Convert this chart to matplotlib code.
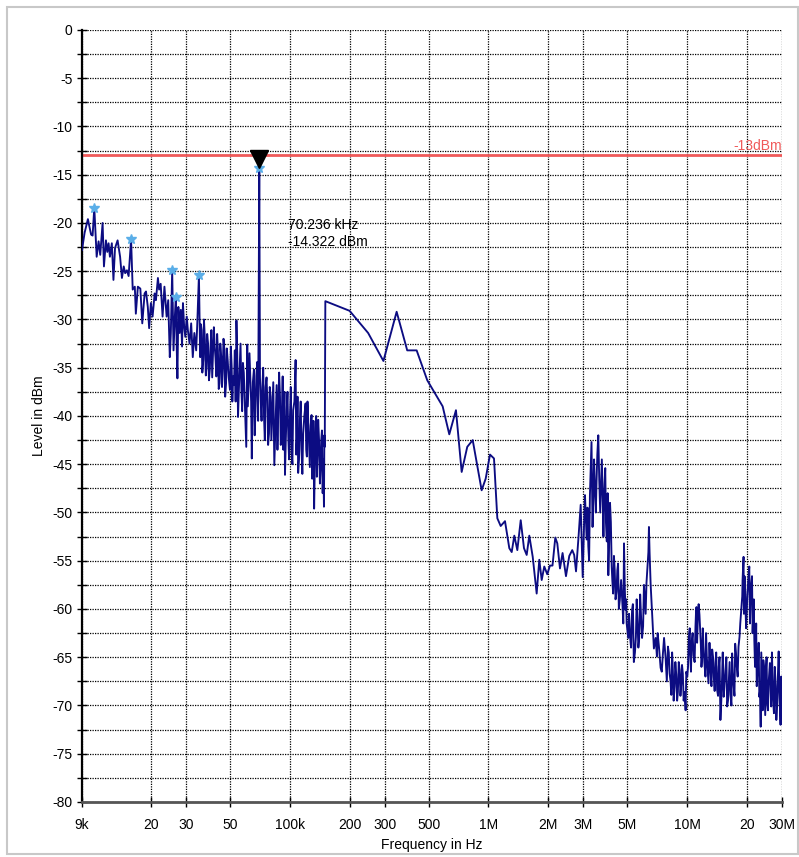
import matplotlib.pyplot as plt
from matplotlib.patches import Rectangle

# spectrum trace (kHz, dBm)
freq_khz = [
    9.0, 9.28, 9.64, 9.8, 10.0, 10.18, 10.38, 10.67, 10.91, 11.12,
    11.43, 11.61, 11.88, 12.07, 12.25, 12.44, 12.72, 12.96, 13.2, 13.6,
    14.0, 14.3, 14.6, 14.85, 15.15, 15.45, 15.9, 16.2, 16.6, 16.8,
    17.2, 17.7, 18.1, 18.6, 18.9, 19.3, 19.6, 20.0, 20.4, 20.9,
    21.2, 21.7, 22.0, 22.4, 22.9, 23.4, 24.0, 24.45, 24.9, 25.2,
    25.6, 26.0, 26.4, 26.7, 27.0, 27.2, 27.5, 27.9, 28.3, 28.7,
    29.0, 29.4, 29.8, 30.3, 30.7, 31.3, 31.9, 32.5, 33.1, 33.8,
    34.2, 34.9, 35.4, 36.0, 36.7, 37.4, 38.1, 38.8, 39.6, 40.3,
    41.1, 41.9, 42.7, 43.5, 44.3, 45.2, 46.0, 46.9, 47.8, 48.7,
    50.0, 51.0, 51.9, 52.9, 53.9, 54.9, 56.0, 57.1, 58.1, 59.3,
    60.4, 61.1, 62.0, 63.5, 64.4, 66.0, 67.3, 68.6, 70.236, 71.4,
    72.8, 74.2, 75.6, 77.1, 78.6, 80.1, 81.6, 83.6, 85.9, 87.5,
    89.3, 91.0, 92.1, 93.5, 94.6, 96.5, 98.3, 100.2, 102.2, 104.0,
    107.0, 108.6, 110.2, 112.4, 114.6, 116.8, 120.1, 121.9, 123.8, 126.2,
    128.7, 130.6, 132.6, 134.8, 136.9, 139.0, 141.8, 144.0, 146.4, 148.6,
    150.0, 151.0, 200, 248, 296, 345, 390, 435, 492, 588,
    635, 686, 733, 782, 833, 924, 968, 1018, 1066, 1108,
    1152, 1211, 1273, 1309, 1349, 1397, 1453, 1509, 1557, 1605,
    1670, 1748, 1802, 1853, 1909, 1976, 2039, 2100, 2169, 2220,
    2290, 2360, 2455, 2551, 2640, 2700, 2758, 2840, 2911, 2980,
    3060, 3120, 3180, 3240, 3300, 3370, 3430, 3500, 3570, 3610,
    3680, 3760, 3810, 3870, 3940, 4010, 4090, 4170, 4240, 4320,
    4410, 4490, 4580, 4730, 4810, 4890, 4960, 5050, 5150, 5280,
    5390, 5520, 5620, 5730, 5860, 6000, 6120, 6240, 6310, 6380,
    6420, 6470, 6550, 6650, 6720, 6800, 6940, 7040, 7210, 7350,
    7550, 7790, 8000, 8160, 8320, 8470, 8640, 8810, 8980, 9160,
    9340, 9510, 9710, 9820, 10010, 10200, 10360, 10520, 10760, 11010,
    11140, 11310, 11530, 11710, 11900, 12080, 12360, 12550, 12800, 13100,
    13360, 13610, 13880, 14150, 14420, 14700, 14990, 15270, 15580, 15890,
    16190, 16510, 16840, 17100, 17440, 17770, 18130, 18340, 18710, 18930,
    19220, 19440, 19670, 20070, 20540, 20880, 21200, 21520, 21770, 22130,
    22390, 22730, 23070, 23440, 23800, 24160, 24550, 24910, 25280, 25690,
    26080, 26480, 26910, 27330, 27880, 28400, 28870, 29310, 29760, 30000,
]
level_dbm = [
    -22.8, -21.0, -19.6, -20.3, -21.2, -21.3, -18.4, -23.5, -21.9, -23.3,
    -20.0, -24.5, -21.8, -23.0, -22.1, -23.5, -22.1, -25.9, -22.6, -21.8,
    -23.5, -25.7, -24.5, -25.2, -24.9, -25.5, -21.7, -26.9, -26.6, -29.4,
    -26.6, -26.8, -30.4, -27.3, -27.1, -28.7, -30.9, -28.3, -29.7, -27.3,
    -28.0, -25.7, -26.9, -26.3, -29.7, -26.6, -29.7, -28.0, -33.9, -31.4,
    -24.9, -33.2, -29.7, -27.7, -33.2, -36.1, -28.7, -31.4, -29.0, -32.8,
    -28.3, -30.7, -31.8, -29.7, -31.1, -32.5, -30.4, -33.9, -31.4, -33.2,
    -30.7, -25.4, -33.9, -31.1, -34.2, -32.1, -34.9, -32.5, -35.2, -31.1,
    -33.5, -32.8, -35.9, -33.2, -36.6, -33.9, -35.2, -33.2, -36.6, -34.2,
    -37.3, -34.9, -35.9, -33.2, -30.1, -40.1, -34.9, -37.3, -34.5, -38.3,
    -43.2, -32.6, -36.6, -37.0, -44.4, -35.2, -39.0, -34.4, -14.322, -38.3,
    -37.0, -40.1, -37.0, -38.3, -41.8, -38.0, -39.7, -45.1, -36.8, -39.4,
    -38.0, -41.1, -35.9, -40.4, -46.1, -39.4, -42.1, -40.1, -43.9, -39.4,
    -34.2, -42.5, -45.9, -40.4, -43.5, -41.8, -38.7, -44.2, -40.4, -45.3,
    -39.9, -43.5, -49.6, -41.8, -46.3, -40.4, -47.0, -42.5, -48.0, -49.4,
    -43.2, -28.1, -29.1, -31.4, -34.3, -29.2, -33.2, -33.2, -36.3, -39.0,
    -41.9, -39.4, -45.8, -43.2, -42.5, -47.7, -46.5, -44.0, -44.4, -50.6,
    -51.4, -50.9, -53.7, -54.1, -52.4, -53.9, -50.8, -53.7, -54.4, -52.4,
    -54.6, -58.4, -54.9, -57.0, -55.6, -56.4, -55.5, -55.5, -52.6, -53.2,
    -55.8, -54.2, -56.6, -54.5, -53.9, -54.4, -56.1, -52.5, -49.2, -56.7,
    -48.2, -52.8, -53.5, -48.2, -42.7, -48.4, -47.3, -46.6, -42.0, -46.6,
    -47.7, -48.7, -49.7, -45.4, -53.0, -56.5, -49.0, -55.6, -58.4, -56.0,
    -58.2, -55.3, -59.1, -59.8, -53.2, -60.1, -61.5, -63.0, -62.7, -60.1,
    -65.5, -62.9, -61.1, -63.2, -60.8, -61.8, -59.1, -57.3, -55.6, -54.1,
    -51.5, -54.2, -57.5, -60.1, -61.8, -64.1, -63.0, -64.9, -63.9, -66.1,
    -64.6, -65.1, -63.9, -66.7, -68.9, -66.3, -68.0, -66.8, -68.6, -66.3,
    -67.7, -66.7, -68.6, -70.5, -67.0, -63.0, -64.6, -63.6, -64.8, -61.8,
    -59.8, -61.1, -60.6, -63.6, -64.9, -63.9, -67.0, -64.9, -67.7, -66.3,
    -64.2, -67.0, -65.6, -68.4, -66.0, -71.5, -67.0, -69.1, -66.3, -70.1,
    -67.7, -68.9, -64.6, -67.7, -63.6, -66.0, -63.9, -62.9, -60.1, -58.7,
    -54.6, -56.6, -60.1, -58.7, -55.6, -58.4, -56.6, -60.1, -63.2, -63.9,
    -68.0, -65.6, -69.1, -72.2, -67.7, -65.3, -69.1, -66.3, -69.8, -67.7,
    -65.6, -70.1, -67.4, -70.8, -68.0, -69.8, -64.4, -70.5, -67.0, -71.9,
]

# more samples from the dense noise bands (kHz, dBm)
extra_khz = [
    35.7, 36.3, 37.0, 37.8, 38.4, 39.2, 39.9, 40.7, 41.5, 42.3,
    43.1, 43.9, 44.7, 45.6, 46.4, 47.3, 48.2, 49.3, 50.5, 51.4,
    52.4, 53.4, 54.4, 55.4, 56.5, 57.6, 58.7, 59.8, 60.8, 61.5,
    62.7, 63.9, 65.2, 66.6, 67.9, 69.3, 70.8, 72.1, 73.5, 74.9,
    76.4, 77.8, 79.3, 80.8, 82.6, 84.7, 86.7, 88.4, 90.1, 91.5,
    92.8, 94.0, 95.5, 97.4, 99.2, 101.2, 103.1, 105.5, 107.8, 109.4,
    111.3, 113.5, 115.7, 118.4, 121.0, 122.8, 125.0, 127.4, 129.6, 131.6,
    133.7, 135.8, 137.9, 140.4, 142.9, 145.2, 147.5, 149.3,
    3030, 3150, 3210, 3270, 3340, 3400, 3470, 3530, 3650, 3720,
    3790, 3840, 3900, 3980, 4050, 4130, 4200, 4280, 4360, 4450,
    4530, 4650, 4770, 4850, 4930,
    5100, 5220, 5330, 5460, 5570, 5680, 5800, 5930, 6060, 6180,
    7100, 7450, 7650, 7900, 8080, 8250, 8400, 8550, 8720, 8900,
    9070, 9250, 9420, 9600, 9900,
    10100, 10300, 10450, 10650, 10900, 11070, 11220, 11420, 11620, 11800,
    11980, 12200, 12450, 12700, 12950, 13250, 13500, 13750, 14000, 14300,
    14550, 14850, 15100, 15400, 15750, 16050, 16350, 16700, 16950, 17300,
    17600, 17950,
    18500, 19000, 19300, 19550, 19800, 20300, 20700, 21000, 21350, 21650,
    21950,
    22250, 22550, 22900, 23250, 23600, 24000, 24350, 24700, 25100, 25500,
    25900, 26300, 26700, 27100, 27600, 28100, 28600, 29100, 29500,
]
extra_dbm = [
    -30.5, -35.5, -30.0, -35.8, -31.5, -36.3, -33.0, -36.0, -30.8, -34.0,
    -31.5, -37.2, -32.5, -37.0, -32.0, -38.0, -33.0, -36.0, -32.8, -38.5,
    -36.8, -38.5, -33.5, -37.5, -32.5, -39.5, -35.5, -40.5, -36.5, -39.0,
    -33.5, -38.5, -36.5, -42.0, -35.8, -40.5, -36.0, -40.5, -35.0, -42.5,
    -36.0, -43.0, -37.0, -42.5, -36.5, -41.0, -43.5, -35.5, -43.0, -38.5,
    -43.5, -37.5, -42.5, -37.5, -44.5, -37.0, -45.0, -38.5, -44.0, -38.0,
    -44.5, -38.5, -46.0, -40.0, -43.5, -38.5, -43.0, -41.0, -46.5, -40.5,
    -45.0, -40.0, -44.0, -42.5, -45.5, -41.5, -44.5, -42.0,
    -51.0, -49.5, -55.0, -45.5, -51.5, -44.5, -50.0, -44.0, -50.0, -44.5,
    -52.5, -47.0, -51.0, -48.0, -53.0, -51.0, -57.0, -54.5, -59.0, -56.0,
    -60.0, -57.0, -61.5, -57.5, -59.0,
    -60.5, -64.0, -59.5, -64.5, -59.0, -64.0, -58.5, -63.0, -57.5, -60.5,
    -62.5, -66.5, -63.0, -67.5, -64.5, -67.5, -64.5, -69.5, -65.5, -69.5,
    -65.5, -69.0, -65.8, -69.5, -66.5,
    -66.0, -62.0, -66.5, -62.5, -65.5, -60.5, -63.5, -59.5, -62.0, -66.0,
    -62.0, -65.5, -62.5, -66.5, -63.5, -68.0, -65.0, -68.5, -64.5, -69.0,
    -65.0, -69.5, -64.5, -68.0, -65.0, -69.5, -65.5, -70.0, -66.5, -69.0,
    -64.5, -67.0,
    -61.5, -57.0, -60.5, -57.5, -62.0, -57.0, -61.5, -57.5, -62.5, -59.0,
    -66.0,
    -61.5, -66.5, -63.5, -68.5, -64.5, -70.5, -66.0, -71.0, -65.0, -70.5,
    -66.5, -68.5, -64.5, -69.5, -66.0, -71.5, -67.0, -68.5, -72.0,
]

# peak markers (stars) and the main marker
peak_khz = [10.38, 15.9, 25.6, 26.7, 34.9, 70.236]
peak_dbm = [-18.4, -21.7, -24.9, -27.7, -25.4, -14.322]
marker_khz = 70.236
marker_dbm = -14.322
limit_dbm = -13

xtick_khz = [9, 20, 30, 50, 100, 200, 300, 500, 1000, 2000, 3000, 5000,
             10000, 20000, 30000]
xtick_labels = ['9k', '20', '30', '50', '100k', '200', '300', '500', '1M',
                '2M', '3M', '5M', '10M', '20', '30M']

plt.rcParams['font.family'] = ['Liberation Sans', 'DejaVu Sans']
plt.rcParams['axes.unicode_minus'] = False

fig = plt.figure(figsize=(7.99, 8.57), dpi=100)
fig.patches.append(Rectangle((0.009, 0.004), 0.99, 0.988, transform=fig.transFigure,
                             fill=False, edgecolor='#c8c8c8', lw=1.5))
ax = fig.add_axes([0.1026, 0.0642, 0.8761, 0.9008])

trace = sorted(zip(freq_khz + extra_khz, level_dbm + extra_dbm))
ax.plot([f * 1e3 for f, _ in trace], [v for _, v in trace],
        color='#0c0c82', lw=1.35, zorder=3)
ax.plot([f * 1e3 for f in peak_khz], peak_dbm, ls='none', marker='*',
        color='#5aaee8', ms=7, zorder=4)
ax.axhline(limit_dbm, color='#f05a5a', lw=2, zorder=2)
ax.text(30e6, limit_dbm + 0.25, '-13dBm', color='#f05a5a', ha='right',
        va='bottom', fontsize=10)
ax.plot([marker_khz * 1e3], [marker_dbm + 0.95], marker='v', color='black',
        ms=13, ls='none', zorder=5)
ax.text(marker_khz * 1e3 * 1.395, marker_dbm - 6.8,
        f'{marker_khz:.3f} kHz\n{marker_dbm:.3f} dBm', fontsize=10,
        ha='left', va='center', linespacing=1.25)

ax.set_xscale('log')
ax.set_xlim(9e3, 30e6)
ax.set_ylim(-80, 0)
ax.set_xticks([f * 1e3 for f in xtick_khz])
ax.set_xticklabels(xtick_labels)
ax.xaxis.set_minor_locator(plt.NullLocator())
ax.set_yticks(range(-80, 1, 5))
ax.set_yticks([v + 2.5 for v in range(-80, 0, 5)], minor=True)

ax.grid(True, which='major', color='black', ls=(0, (1, 1)), lw=0.9)
ax.grid(True, which='minor', axis='y', color='black', ls=(0, (1, 1)), lw=0.9)
ax.tick_params(axis='both', which='both', direction='inout', length=7,
               labelsize=10, width=1)
ax.tick_params(axis='x', pad=8)

for s in ['top', 'right']:
    ax.spines[s].set_visible(False)
ax.spines['left'].set_linewidth(1.6)
ax.spines['bottom'].set_linewidth(2)
ax.spines['bottom'].set_color('#555555')

ax.set_xlabel('Frequency in Hz', fontsize=10, labelpad=4)
ax.set_ylabel('Level in dBm', fontsize=10, labelpad=4)

fig.savefig('out.png', dpi=100)
